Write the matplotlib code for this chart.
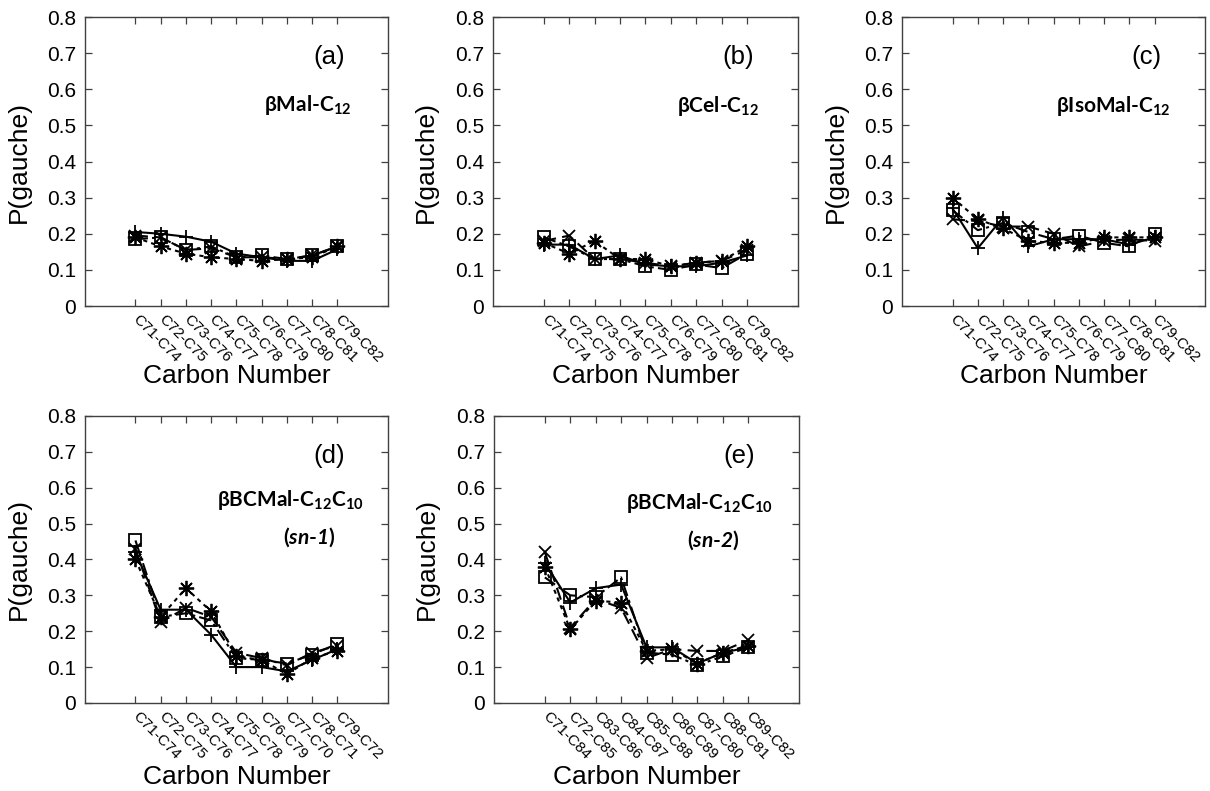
import matplotlib
matplotlib.use("Agg")
import numpy as np
import matplotlib.pyplot as plt

plt.rcParams["font.family"] = ["Liberation Sans", "DejaVu Sans"]
plt.rcParams["mathtext.fontset"] = "custom"
plt.rcParams["mathtext.rm"] = "Lato"
plt.rcParams["mathtext.it"] = "Lato:italic"
plt.rcParams["mathtext.bf"] = "Lato:bold"
plt.rcParams["mathtext.bfit"] = "Lato:italic:bold"

# ── Dihedral pair labels ─────────────────────────────────────────────────────
PAIRS_STD = ["C71-C74", "C72-C75", "C73-C76", "C74-C77", "C75-C78",
             "C76-C79", "C77-C80", "C78-C81", "C79-C82"]
PAIRS_SN1 = ["C71-C74", "C72-C75", "C73-C76", "C74-C77", "C75-C78",
             "C76-C79", "C77-C70", "C78-C71", "C79-C72"]
PAIRS_SN2 = ["C71-C84", "C72-C85", "C83-C86", "C84-C87", "C85-C88",
             "C86-C89", "C87-C80", "C88-C81", "C89-C82"]

# ── P(gauche) per surfactant, four runs each ─────────────────────────────────
MAL_RUN1 = [0.205, 0.200, 0.192, 0.178, 0.145, 0.135, 0.125, 0.125, 0.157]
MAL_RUN2 = [0.195, 0.190, 0.155, 0.160, 0.135, 0.135, 0.130, 0.140, 0.165]
MAL_RUN3 = [0.190, 0.165, 0.145, 0.135, 0.130, 0.125, 0.130, 0.135, 0.165]
MAL_RUN4 = [0.185, 0.190, 0.155, 0.165, 0.135, 0.140, 0.130, 0.140, 0.165]

CEL_RUN1 = [0.170, 0.170, 0.130, 0.140, 0.115, 0.110, 0.110, 0.120, 0.140]
CEL_RUN2 = [0.180, 0.195, 0.130, 0.130, 0.120, 0.110, 0.120, 0.125, 0.155]
CEL_RUN3 = [0.175, 0.145, 0.180, 0.130, 0.130, 0.110, 0.120, 0.125, 0.165]
CEL_RUN4 = [0.190, 0.165, 0.130, 0.130, 0.110, 0.100, 0.115, 0.105, 0.145]

ISO_RUN1 = [0.270, 0.160, 0.245, 0.165, 0.185, 0.185, 0.185, 0.170, 0.190]
ISO_RUN2 = [0.240, 0.235, 0.220, 0.220, 0.200, 0.165, 0.180, 0.185, 0.180]
ISO_RUN3 = [0.300, 0.240, 0.215, 0.180, 0.175, 0.175, 0.190, 0.190, 0.190]
ISO_RUN4 = [0.265, 0.210, 0.230, 0.205, 0.185, 0.195, 0.175, 0.165, 0.200]

SN1_RUN1 = [0.420, 0.260, 0.260, 0.190, 0.100, 0.100, 0.088, 0.120, 0.150]
SN1_RUN2 = [0.430, 0.225, 0.265, 0.240, 0.140, 0.125, 0.105, 0.140, 0.160]
SN1_RUN3 = [0.400, 0.240, 0.320, 0.255, 0.130, 0.120, 0.080, 0.125, 0.145]
SN1_RUN4 = [0.453, 0.240, 0.250, 0.230, 0.125, 0.120, 0.110, 0.135, 0.165]

SN2_RUN1 = [0.390, 0.280, 0.320, 0.330, 0.155, 0.155, 0.110, 0.140, 0.155]
SN2_RUN2 = [0.420, 0.210, 0.290, 0.265, 0.125, 0.150, 0.145, 0.145, 0.175]
SN2_RUN3 = [0.380, 0.205, 0.285, 0.280, 0.145, 0.150, 0.110, 0.140, 0.160]
SN2_RUN4 = [0.350, 0.300, 0.295, 0.350, 0.140, 0.135, 0.105, 0.130, 0.155]

RUN_STYLES = [
    dict(marker="+", linestyle="-", markersize=10),
    dict(marker="x", linestyle=(0, (6, 3)), markersize=9),
    dict(marker=(8, 2, 0), linestyle=(0, (2, 2)), markersize=11),
    dict(marker="s", linestyle=(0, (6, 2, 1.5, 2)), markersize=8.5,
         markerfacecolor="none"),
]

NAME_FONT = ["Lato", "Noto Sans", "DejaVu Sans"]

# (axes rect, tag, series, pair labels, name text, name pos, extra text+pos)
panels = [
    ([0.0702, 0.6131, 0.2504, 0.3654], "(a)",
     [MAL_RUN1, MAL_RUN2, MAL_RUN3, MAL_RUN4], PAIRS_STD,
     r"βMal-C$_\mathbf{12}$", (0.878, 0.695), None),
    ([0.4074, 0.6131, 0.2520, 0.3654], "(b)",
     [CEL_RUN1, CEL_RUN2, CEL_RUN3, CEL_RUN4], PAIRS_STD,
     r"βCel-C$_\mathbf{12}$", (0.872, 0.692), None),
    ([0.7455, 0.6131, 0.2504, 0.3654], "(c)",
     [ISO_RUN1, ISO_RUN2, ISO_RUN3, ISO_RUN4], PAIRS_STD,
     r"βIsoMal-C$_\mathbf{12}$", (0.888, 0.692), None),
    ([0.0702, 0.1113, 0.2504, 0.3628], "(d)",
     [SN1_RUN1, SN1_RUN2, SN1_RUN3, SN1_RUN4], PAIRS_SN1,
     r"βBCMal-C$_\mathbf{12}$C$_\mathbf{10}$", (0.677, 0.707),
     (r"($\mathbfit{sn}$-$\mathbfit{1}$)", (0.740, 0.578))),
    ([0.4083, 0.1113, 0.2520, 0.3628], "(e)",
     [SN2_RUN1, SN2_RUN2, SN2_RUN3, SN2_RUN4], PAIRS_SN2,
     r"βBCMal-C$_\mathbf{12}$C$_\mathbf{10}$", (0.672, 0.697),
     (r"($\mathbfit{sn}$-$\mathbfit{2}$)", (0.718, 0.568))),
]

fig = plt.figure(figsize=(12.1, 7.91), dpi=100)

for rect, tag, runs, pairs, name, name_pos, extra in panels:
    ax = fig.add_axes(rect)
    x = np.arange(1, len(pairs) + 1)

    for values, style in zip(runs, RUN_STYLES):
        ax.plot(x, values, color="black", linewidth=1.5,
                markeredgewidth=1.3, **style)

    ax.set_xlim(-1, 11)
    ax.set_ylim(0, 0.8)
    ax.set_yticks(np.arange(0, 0.81, 0.1))
    ax.set_yticklabels(["0"] + [f"{v:.1f}" for v in np.arange(0.1, 0.81, 0.1)])
    ax.set_xticks(x)
    ax.set_xticklabels(pairs, fontsize=11, rotation=-45, ha="left",
                       va="center", rotation_mode="anchor")

    ax.tick_params(direction="in", top=True, right=True, length=5,
                   width=0.9, color="#404040")
    ax.tick_params(axis="y", labelsize=15, pad=6.5)
    ax.tick_params(axis="x", pad=8)
    for spine in ax.spines.values():
        spine.set_linewidth(1.0)
        spine.set_color("#404040")

    ax.set_ylabel("P(gauche)", fontsize=19)
    ax.yaxis.set_label_coords(-0.18, 0.5)
    ax.set_xlabel("Carbon Number", fontsize=19)
    ax.xaxis.set_label_coords(0.5, -0.2 if rect[1] > 0.5 else -0.215)

    ax.text(0.805, 0.86, tag, transform=ax.transAxes, ha="center",
            va="center", fontsize=18.5)
    ha = "right" if extra is None else "center"
    ax.text(name_pos[0], name_pos[1], name, transform=ax.transAxes, ha=ha,
            va="center", fontsize=15, fontweight="bold", family=NAME_FONT)
    if extra is not None:
        ax.text(extra[1][0], extra[1][1], extra[0], transform=ax.transAxes,
                ha="center", va="center", fontsize=15, fontweight="bold",
                family=NAME_FONT)

fig.savefig("out.png", dpi=100)
